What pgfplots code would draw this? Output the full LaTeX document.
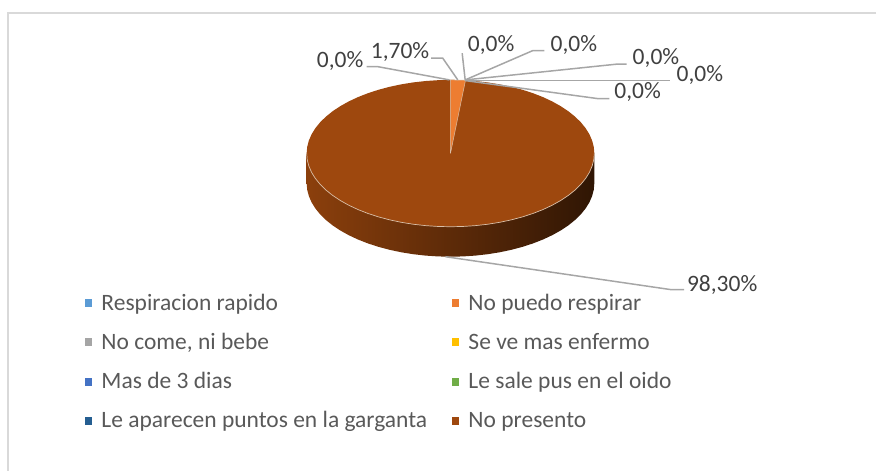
\documentclass[border=0pt]{standalone}
\usepackage{fontspec}
\setmainfont{Carlito}
\usepackage{pgfplots}
\pgfplotsset{compat=1.18}
\definecolor{c1}{HTML}{5B9BD5}
\definecolor{c2}{HTML}{ED7D31}
\definecolor{c3}{HTML}{A5A5A5}
\definecolor{c4}{HTML}{FFC000}
\definecolor{c5}{HTML}{4472C4}
\definecolor{c6}{HTML}{70AD47}
\definecolor{c7}{HTML}{255E91}
\definecolor{c8}{HTML}{9E480E}
\definecolor{lbl}{HTML}{404040}
\definecolor{legtxt}{HTML}{595959}
\definecolor{leader}{HTML}{A6A6A6}
\definecolor{rim}{HTML}{D9BFA8}
\begin{document}
\begin{tikzpicture}[x=1bp,y=1bp]
\begin{axis}[
    width=877bp, height=472bp, scale only axis,
    xmin=0, xmax=877, ymin=0, ymax=472, y dir=reverse,
    axis lines=none, clip=false,
    legend style={at={(axis cs:85,292)}, anchor=north west, draw=none, fill=none,
        legend columns=2, font=\fontsize{23.6}{27}\selectfont\color{legtxt},
        inner sep=0pt, row sep=17.5bp,
        /tikz/column 1/.style={column sep=8bp},
        /tikz/column 2/.style={column sep=23bp},
        /tikz/column 3/.style={column sep=8bp}},
    legend cell align=left,
    legend image code/.code={\fill[#1] (0bp,-3.5bp) rectangle (6bp,3.5bp);},
]
% page extent
\addplot[draw=none, forget plot] coordinates {(0,0) (877,472)};
% frame: top and left only
\addplot[draw=black!15, line width=2bp, forget plot] coordinates {(877,13.5) (8.5,13.5) (8.5,472)};

% pie side: lower half of the rim, 30 px below the top face
\addplot[draw=none, left color=c8!88!black, middle color=c8!55!black, right color=c8!30!black, forget plot] coordinates {
 (595,153.5) (595,183.5) (594.45,189.91) (592.8,196.26) (590.09,202.52) (586.3,208.64) (581.5,214.56)
 (575.7,220.25) (568.96,225.66) (561.3,230.74) (552.82,235.47) (543.56,239.8) (533.6,243.71) (523,247.15)
 (511.86,250.11) (500.25,252.57) (488.27,254.5) (476,255.88) (463.55,256.72) (451,257)
 (438.45,256.72) (426,255.88) (413.73,254.5) (401.75,252.57) (390.14,250.11) (379,247.15) (368.4,243.71)
 (358.44,239.8) (349.18,235.47) (340.7,230.74) (333.04,225.66) (326.3,220.25) (320.5,214.56) (315.7,208.64)
 (311.91,202.52) (309.2,196.26) (307.55,189.91) (307,183.5) (307,153.5)};

% No presento 98,30%: whole top face
\addplot[fill=c8, draw=none, forget plot] coordinates {
 (451,80) (463.55,80.28) (476,81.12) (488.27,82.5) (500.25,84.43) (511.86,86.89) (523,89.85) (533.6,93.29)
 (543.56,97.2) (552.82,101.53) (561.3,106.26) (568.96,111.34) (575.7,116.75) (581.5,122.44) (586.3,128.36)
 (590.09,134.48) (592.8,140.74) (594.45,147.09) (595,153.5) (594.45,159.91) (592.8,166.26) (590.09,172.52)
 (586.3,178.64) (581.5,184.56) (575.7,190.25) (568.96,195.66) (561.3,200.74) (552.82,205.47) (543.56,209.8)
 (533.6,213.71) (523,217.15) (511.86,220.11) (500.25,222.57) (488.27,224.5) (476,225.88) (463.55,226.72)
 (451,227) (438.45,226.72) (426,225.88) (413.73,224.5) (401.75,222.57) (390.14,220.11) (379,217.15)
 (368.4,213.71) (358.44,209.8) (349.18,205.47) (340.7,200.74) (333.04,195.66) (326.3,190.25) (320.5,184.56)
 (315.7,178.64) (311.91,172.52) (309.2,166.26) (307.55,159.91) (307,153.5) (307.55,147.09) (309.2,140.74)
 (311.91,134.48) (315.7,128.36) (320.5,122.44) (326.3,116.75) (333.04,111.34) (340.7,106.26) (349.18,101.53)
 (358.44,97.2) (368.4,93.29) (379,89.85) (390.14,86.89) (401.75,84.43) (413.73,82.5) (426,81.12) (438.45,80.28)
 (451,80)};
% light rim along the front edge
\addplot[draw=rim, line width=0.7bp, forget plot] coordinates {
 (595,153.5) (594.45,159.91) (592.8,166.26) (590.09,172.52)
 (586.3,178.64) (581.5,184.56) (575.7,190.25) (568.96,195.66) (561.3,200.74) (552.82,205.47) (543.56,209.8)
 (533.6,213.71) (523,217.15) (511.86,220.11) (500.25,222.57) (488.27,224.5) (476,225.88) (463.55,226.72)
 (451,227) (438.45,226.72) (426,225.88) (413.73,224.5) (401.75,222.57) (390.14,220.11) (379,217.15)
 (368.4,213.71) (358.44,209.8) (349.18,205.47) (340.7,200.74) (333.04,195.66) (326.3,190.25) (320.5,184.56)
 (315.7,178.64) (311.91,172.52) (309.2,166.26) (307.55,159.91) (307,153.5)};

% No puedo respirar 1,70%
\addplot[fill=c2, draw=rim, line width=0.5bp, forget plot] coordinates {(451,153.5) (451,80) (463.55,80.28) (466,80.45) (451,153.5)};

% leader lines
\addplot[draw=leader, line width=1.5bp, forget plot] coordinates {(367,66.7) (378,66.7) (450,80)};
\addplot[draw=leader, line width=1.5bp, forget plot] coordinates {(431.7,58.3) (443.3,58.3) (458.3,80)};
\addplot[draw=leader, line width=1.5bp, forget plot] coordinates {(462.7,53.3) (465.7,80)};
\addplot[draw=leader, line width=1.5bp, forget plot] coordinates {(545,50.7) (533.3,50.7) (465.7,80)};
\addplot[draw=leader, line width=1.5bp, forget plot] coordinates {(627.3,64.3) (616.7,64.3) (466,80)};
\addplot[draw=leader, line width=1.5bp, forget plot] coordinates {(670.7,80.7) (466,80.7)};
\addplot[draw=leader, line width=1.5bp, forget plot] coordinates {(610,98.7) (598.3,98.7) (466,80.7)};
\addplot[draw=leader, line width=1.5bp, forget plot] coordinates {(685,290) (672,290) (446,257)};

% data labels
\begin{scope}[every node/.style={text=lbl, font=\fontsize{23.6}{27}\selectfont, inner sep=0pt}]
\node at (axis cs:340.5,61) {0,0\%};
\node at (axis cs:400.5,52) {1,70\%};
\node at (axis cs:491.7,45.3) {0,0\%};
\node at (axis cs:574.5,45) {0,0\%};
\node at (axis cs:656.7,57.7) {0,0\%};
\node at (axis cs:700.7,75) {0,0\%};
\node at (axis cs:638.3,91.7) {0,0\%};
\node at (axis cs:723,285) {98,30\%};
\end{scope}

% legend
\addlegendimage{c1}\addlegendentry{Respiracion rapido}
\addlegendimage{c2}\addlegendentry{No puedo respirar}
\addlegendimage{c3}\addlegendentry{No come, ni bebe}
\addlegendimage{c4}\addlegendentry{Se ve mas enfermo}
\addlegendimage{c5}\addlegendentry{Mas de 3 dias}
\addlegendimage{c6}\addlegendentry{Le sale pus en el oido}
\addlegendimage{c7}\addlegendentry{Le aparecen puntos en la garganta}
\addlegendimage{c8}\addlegendentry{No presento}
\end{axis}
\end{tikzpicture}
\end{document}
